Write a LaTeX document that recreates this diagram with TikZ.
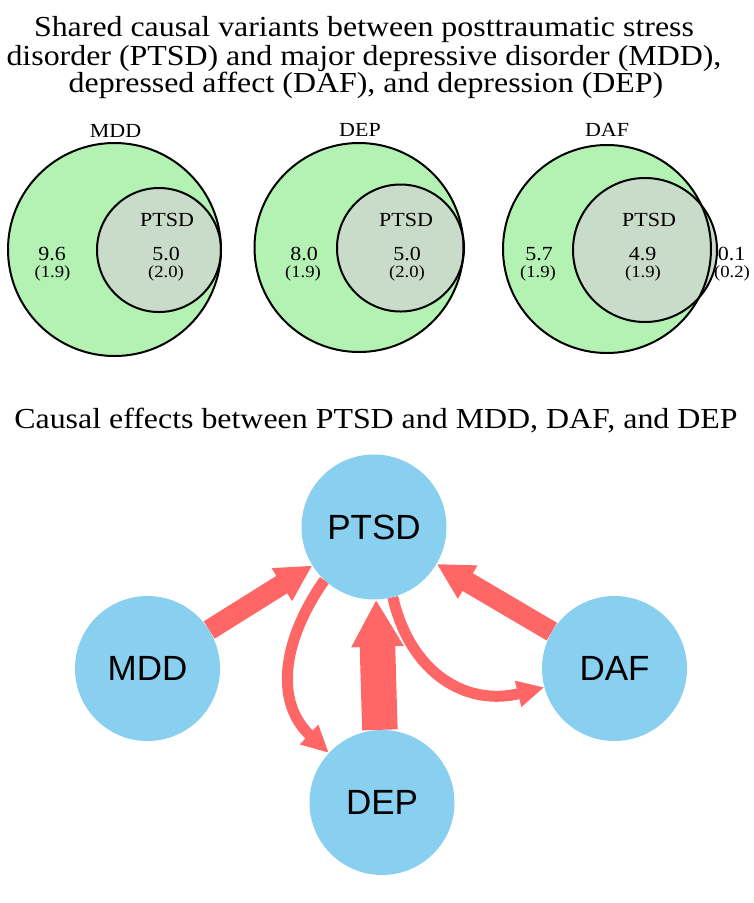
\documentclass[tikz,border=0pt]{standalone}
\usepackage{fontspec}
\setmainfont{Liberation Serif}
\newfontfamily\wideserif[FakeStretch=1.1]{Liberation Serif}
\newfontfamily\arialfont{Liberation Sans}
\usetikzlibrary{arrows.meta}
\definecolor{vgreen}{HTML}{B3F2B3}
\definecolor{vinner}{HTML}{C9DCC9}
\definecolor{nodeblue}{HTML}{89CFF0}
\definecolor{arrred}{HTML}{FF6666}
\pgfdeclarelayer{bg}
\pgfsetlayers{bg,main}
\tikzset{
  ttl/.style={font=\wideserif\fontsize{29}{29}\selectfont, inner sep=0, anchor=base},
  vlab/.style={font=\wideserif\fontsize{20}{20}\selectfont, inner sep=0, anchor=base},
  vpar/.style={font=\wideserif\fontsize{17}{17}\selectfont, inner sep=0, anchor=base},
  vline/.style={draw=black, line width=2pt},
  netnode/.style={circle, fill=nodeblue, minimum size=145pt, inner sep=0, font=\arialfont\fontsize{35}{35}\selectfont},
  bigarrow/.style={draw=arrred, line width=20.5pt, -{Triangle[length=36pt,width=36pt]}},
  vbigarrow/.style={draw=arrred, line width=35.5pt, -{Triangle[length=47pt,width=49pt]}},
  thinarrow/.style={draw=arrred, line width=11pt, -{Triangle[length=27pt,width=25pt]}},
}
\begin{document}
\begin{tikzpicture}[x=1pt,y=-1pt]
\useasboundingbox (0,0) rectangle (753,903);
% titles
\node[ttl] (t1a) at (364,36) {Shared causal variants between posttraumatic stress};
\node[ttl] (t1b) at (364,65) {disorder (PTSD) and major depressive disorder (MDD),};
\node[ttl] (t1c) at (366,92) {depressed affect (DAF), and depression (DEP)};
\node[ttl] (t2) at (376,428) {Causal effects between PTSD and MDD, DAF, and DEP};
% Venn 1
\fill[vgreen] (114.5,249.5) circle (106.5);
\fill[vinner] (159,250) circle (62);
\draw[vline] (114.5,249.5) circle (106.5);
\draw[vline] (159,250) circle (62);
\node[vlab] (l1) at (115.5,137) {MDD};
\node[vlab] (p1) at (167,226) {PTSD};
\node[vlab] (a1) at (52,260) {9.6};
\node[vpar] (a1p) at (52.5,277) {(1.9)};
\node[vlab] (b1) at (166,260) {5.0};
\node[vpar] (b1p) at (166,277) {(2.0)};
% Venn 2
\fill[vgreen] (359,247.5) circle (104.5);
\fill[vinner] (400.5,248) circle (63.5);
\draw[vline] (359,247.5) circle (104.5);
\draw[vline] (400.5,248) circle (63.5);
\node[vlab] (l2) at (360,136) {DEP};
\node[vlab] (p2) at (406,226) {PTSD};
\node[vlab] (a2) at (304,260) {8.0};
\node[vpar] (a2p) at (303,277) {(1.9)};
\node[vlab] (b2) at (407,260) {5.0};
\node[vpar] (b2p) at (407,277) {(2.0)};
% Venn 3
\fill[vgreen] (607,249) circle (104);
\fill[vinner] (645,250) circle (72);
\draw[vline] (607,249) circle (104);
\draw[vline] (645,250) circle (72);
\node[vlab] (l3) at (607,136) {DAF};
\node[vlab] (p3) at (649,226) {PTSD};
\node[vlab] (a3) at (539,260) {5.7};
\node[vpar] (a3p) at (538,277) {(1.9)};
\node[vlab] (b3) at (642.5,260) {4.9};
\node[vpar] (b3p) at (643,277) {(1.9)};
\node[vlab] (c3) at (731.5,260) {0.1};
\node[vpar] (c3p) at (732,277) {(0.2)};
% network
\node[netnode] (ptsd) at (374,527) {PTSD};
\node[netnode] (mdd) at (147.5,668.5) {MDD};
\node[netnode] (daf) at (614.5,668.5) {DAF};
\node[netnode] (dep) at (382,802.5) {DEP};
\begin{pgfonlayer}{bg}
\draw[bigarrow] (mdd) -- (ptsd);
\draw[bigarrow] (daf) -- (ptsd);
\draw[vbigarrow] (dep) -- (ptsd);
\draw[thinarrow] (ptsd.227) to[out=235,in=137,looseness=1.1] (dep.137.5);
\draw[thinarrow] (ptsd.285) to[out=283,in=194,looseness=1.15] (daf.195.7);
\end{pgfonlayer}
\end{tikzpicture}
\end{document}
